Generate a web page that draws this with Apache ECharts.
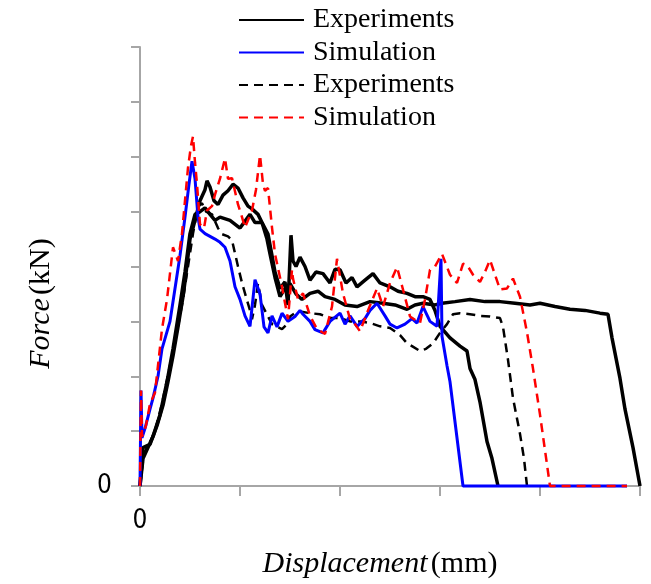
<!DOCTYPE html>
<html>
<head>
<meta charset="utf-8">
<script src="https://cdn.jsdelivr.net/npm/echarts@6/dist/echarts.min.js"></script>
<style>html,body{margin:0;padding:0;background:#fff;overflow:hidden}#c{width:651px;height:584px}</style>
</head>
<body>
<div id="c"></div>
<script>
// Displacement ticks (only 0 labelled) and force ticks (only 0 labelled)
var xTicks = [0, 1, 2, 3, 4, 5];
var yTicks = [0, 1, 2, 3, 4, 5, 6, 7, 8];

// Experiment A (solid, long plateau)
var expA = [[0,0],[0.03,0.5],[0.08,0.7],[0.13,0.9],[0.2,1.3],[0.27,1.9],[0.33,2.5],[0.4,3.3],[0.45,3.9],[0.5,4.6],[0.55,4.95],[0.6,5.0],[0.65,5.07],[0.7,4.95],[0.75,4.84],[0.8,4.9],[0.9,4.84],[1.0,4.7],[1.1,4.95],[1.15,4.8],[1.22,4.8],[1.27,4.5],[1.3,4.23],[1.35,3.8],[1.4,3.45],[1.45,3.6],[1.5,3.69],[1.56,3.5],[1.62,3.4],[1.7,3.51],[1.78,3.55],[1.85,3.45],[1.95,3.4],[2.05,3.3],[2.17,3.27],[2.3,3.36],[2.43,3.33],[2.55,3.3],[2.67,3.22],[2.75,3.3],[2.83,3.33],[2.95,3.3],[3.02,3.33],[3.15,3.36],[3.3,3.4],[3.45,3.36],[3.6,3.36],[3.75,3.33],[3.9,3.3],[4.0,3.33],[4.15,3.27],[4.3,3.22],[4.45,3.2],[4.6,3.15],[4.68,3.13],[4.72,2.7],[4.8,1.96],[4.85,1.4],[4.93,0.7],[4.98,0.2],[5.0,0]];
// Experiment C (solid, short)
var expC = [[0,0],[0.03,0.7],[0.1,0.76],[0.17,1.1],[0.23,1.47],[0.28,1.9],[0.33,2.37],[0.38,2.9],[0.43,3.45],[0.45,3.72],[0.5,4.5],[0.55,4.84],[0.6,5.2],[0.65,5.4],[0.67,5.56],[0.7,5.45],[0.74,5.2],[0.78,5.13],[0.83,5.3],[0.88,5.38],[0.93,5.5],[0.98,5.43],[1.03,5.25],[1.08,5.1],[1.12,5.05],[1.18,4.95],[1.22,4.8],[1.28,4.59],[1.32,4.2],[1.35,3.9],[1.4,3.6],[1.45,3.72],[1.48,3.3],[1.51,4.57],[1.53,4.1],[1.56,4.0],[1.6,4.17],[1.65,4.0],[1.7,3.75],[1.76,3.9],[1.83,3.87],[1.9,3.7],[1.95,3.95],[2.0,3.94],[2.06,3.7],[2.12,3.8],[2.17,3.63],[2.25,3.75],[2.33,3.87],[2.4,3.7],[2.5,3.63],[2.58,3.55],[2.67,3.51],[2.75,3.45],[2.83,3.45],[2.9,3.4],[2.95,3.2],[3.0,2.91],[3.1,2.7],[3.2,2.55],[3.27,2.46],[3.3,2.14],[3.35,1.94],[3.4,1.53],[3.47,0.81],[3.52,0.5],[3.58,0]];
// Experiment D (dashed)
var expD = [[0,0],[0.04,0.6],[0.1,0.8],[0.15,1.0],[0.22,1.5],[0.3,2.2],[0.37,2.8],[0.43,3.4],[0.48,4.0],[0.53,4.6],[0.58,5.1],[0.62,5.15],[0.66,5.0],[0.72,4.95],[0.78,4.7],[0.82,4.59],[0.88,4.55],[0.92,4.48],[0.98,4.0],[1.02,3.7],[1.05,3.51],[1.1,3.2],[1.12,3.04],[1.15,3.3],[1.18,3.69],[1.22,3.3],[1.28,3.09],[1.32,2.95],[1.37,2.9],[1.42,2.86],[1.47,2.95],[1.5,3.09],[1.55,3.15],[1.6,3.18],[1.7,3.15],[1.8,3.13],[1.9,3.06],[2.0,3.06],[2.1,3.0],[2.2,3.0],[2.3,2.97],[2.4,2.91],[2.5,2.88],[2.6,2.75],[2.67,2.6],[2.72,2.55],[2.8,2.46],[2.86,2.5],[2.93,2.6],[3.0,2.79],[3.07,2.95],[3.13,3.13],[3.2,3.15],[3.3,3.13],[3.4,3.1],[3.5,3.09],[3.6,3.06],[3.63,2.9],[3.68,2.3],[3.73,1.6],[3.8,0.95],[3.84,0.5],[3.87,0]];
// Simulation (blue solid)
var simBlue = [[0,0],[0.01,1.74],[0.02,0.88],[0.05,1.05],[0.1,1.4],[0.13,1.6],[0.18,2.0],[0.22,2.5],[0.3,3.0],[0.35,3.6],[0.4,4.2],[0.45,4.9],[0.49,5.5],[0.52,5.92],[0.55,5.6],[0.58,4.9],[0.6,4.68],[0.65,4.6],[0.7,4.55],[0.75,4.5],[0.8,4.44],[0.85,4.35],[0.9,4.1],[0.95,3.63],[1.0,3.4],[1.05,3.1],[1.1,2.91],[1.15,3.76],[1.2,3.5],[1.24,2.9],[1.28,2.79],[1.32,3.1],[1.37,2.9],[1.42,3.15],[1.48,3.0],[1.55,3.09],[1.6,3.2],[1.63,3.13],[1.7,3.0],[1.75,2.85],[1.83,2.79],[1.9,3.0],[2.0,3.15],[2.05,2.95],[2.1,3.1],[2.17,2.91],[2.25,3.05],[2.3,3.2],[2.37,3.33],[2.45,3.1],[2.5,2.95],[2.57,2.88],[2.65,2.95],[2.72,3.05],[2.77,2.97],[2.83,3.27],[2.9,3.0],[2.97,2.91],[3.01,4.14],[3.02,2.73],[3.07,2.19],[3.1,1.9],[3.23,0],[4.87,0]];
// Simulation (red dashed)
var simRed = [[0,0],[0.01,1.74],[0.02,0.9],[0.06,1.1],[0.1,1.5],[0.15,1.7],[0.22,2.86],[0.27,3.4],[0.33,4.35],[0.38,4.1],[0.42,4.6],[0.45,5.2],[0.48,5.8],[0.51,6.2],[0.53,6.37],[0.55,5.9],[0.57,5.5],[0.6,4.77],[0.64,4.7],[0.67,5.02],[0.72,5.1],[0.75,5.31],[0.8,5.6],[0.85,5.97],[0.88,5.6],[0.92,5.61],[0.98,5.13],[1.02,4.9],[1.05,4.71],[1.12,5.02],[1.16,5.4],[1.2,6.03],[1.23,5.5],[1.25,5.38],[1.28,5.43],[1.32,4.71],[1.35,4.23],[1.42,3.63],[1.48,3.04],[1.52,3.94],[1.53,3.78],[1.58,3.4],[1.63,3.51],[1.7,3.1],[1.77,2.86],[1.85,2.77],[1.92,3.27],[1.97,4.14],[2.03,3.51],[2.1,3.04],[2.15,2.95],[2.2,2.82],[2.28,3.2],[2.37,3.6],[2.43,3.27],[2.5,3.7],[2.57,3.99],[2.63,3.58],[2.7,3.09],[2.8,2.97],[2.85,3.4],[2.9,3.94],[2.95,4.0],[3.02,4.23],[3.1,3.85],[3.17,3.7],[3.23,4.05],[3.27,4.03],[3.33,3.85],[3.4,3.72],[3.45,3.9],[3.5,4.12],[3.55,3.85],[3.6,3.58],[3.67,3.6],[3.73,3.78],[3.8,3.45],[3.87,2.8],[3.93,2.14],[4.0,1.3],[4.1,0],[4.87,0]];

var legendNames = ['Experiments', 'Simulation', 'Experiments\u00a0', 'Simulation\u00a0'];

var chart = echarts.init(document.getElementById('c'));
var axisGray = '#a6a6a6';
var serif = 'Liberation Serif, Times New Roman, serif';
var narrow = 'Liberation Sans Narrow, DejaVu Sans Condensed, Arial, sans-serif';

function line(name, data, color, width, type, z) {
  return {
    name: name, type: 'line', data: data, symbol: 'none', showSymbol: false,
    lineStyle: { color: color, width: width, type: type },
    itemStyle: { color: color },
    z: z, animation: false, clip: false
  };
}

chart.setOption({
  animation: false,
  grid: { left: 140, right: 11, top: 47, bottom: 92, containLabel: false },
  legend: {
    data: legendNames,
    orient: 'vertical', left: 238, top: 6, padding: 0,
    itemWidth: 65, itemHeight: 14, itemGap: 4.5,
    itemStyle: { opacity: 0 },
    textStyle: { fontFamily: serif, fontSize: 28, lineHeight: 28, color: '#000', padding: [0, 0, 0, 4] },
    selectedMode: false
  },
  xAxis: {
    type: 'value', min: xTicks[0], max: xTicks[xTicks.length - 1], interval: 1,
    name: '{i|Displacement} {n|(mm)}',
    nameLocation: 'middle', nameGap: 63,
    nameTextStyle: {
      padding: [0, 20, 0, 0],
      rich: {
        i: { fontFamily: serif, fontStyle: 'italic', fontSize: 30, color: '#000' },
        n: { fontFamily: serif, fontSize: 30, color: '#000' }
      }
    },
    axisLine: { show: true, lineStyle: { color: axisGray, width: 2 } },
    axisTick: { show: true, inside: false, length: 10, lineStyle: { color: axisGray, width: 2 } },
    axisLabel: {
      margin: 22, fontFamily: narrow, fontSize: 26, color: '#000',
      formatter: function (v) { return v === 0 ? '0' : ''; }
    },
    splitLine: { show: false }
  },
  yAxis: {
    type: 'value', min: yTicks[0], max: yTicks[yTicks.length - 1], interval: 1,
    name: '{i|Force} {n|(kN)}',
    nameLocation: 'middle', nameGap: 84, nameRotate: 90,
    nameTextStyle: {
      padding: [0, 74, 0, 0],
      rich: {
        i: { fontFamily: serif, fontStyle: 'italic', fontSize: 30, color: '#000' },
        n: { fontFamily: serif, fontSize: 30, color: '#000' }
      }
    },
    axisLine: { show: true, lineStyle: { color: axisGray, width: 2 } },
    axisTick: { show: true, inside: false, length: 9, lineStyle: { color: axisGray, width: 2 } },
    axisLabel: {
      margin: 28, fontFamily: narrow, fontSize: 26, color: '#000',
      formatter: function (v) { return v === 0 ? '0' : ''; }
    },
    splitLine: { show: false }
  },
  series: [
    line('Experiments', expA, '#000', 3.5, 'solid', 2),
    line('Experiments', expC, '#000', 3.5, 'solid', 2),
    line('Experiments\u00a0', expD, '#000', 2.5, [9, 6], 2),
    line('Simulation', simBlue, '#0000ff', 3, 'solid', 3),
    line('Simulation\u00a0', simRed, '#ff0000', 2.5, [9, 6], 4)
  ]
});
</script>
</body>
</html>
